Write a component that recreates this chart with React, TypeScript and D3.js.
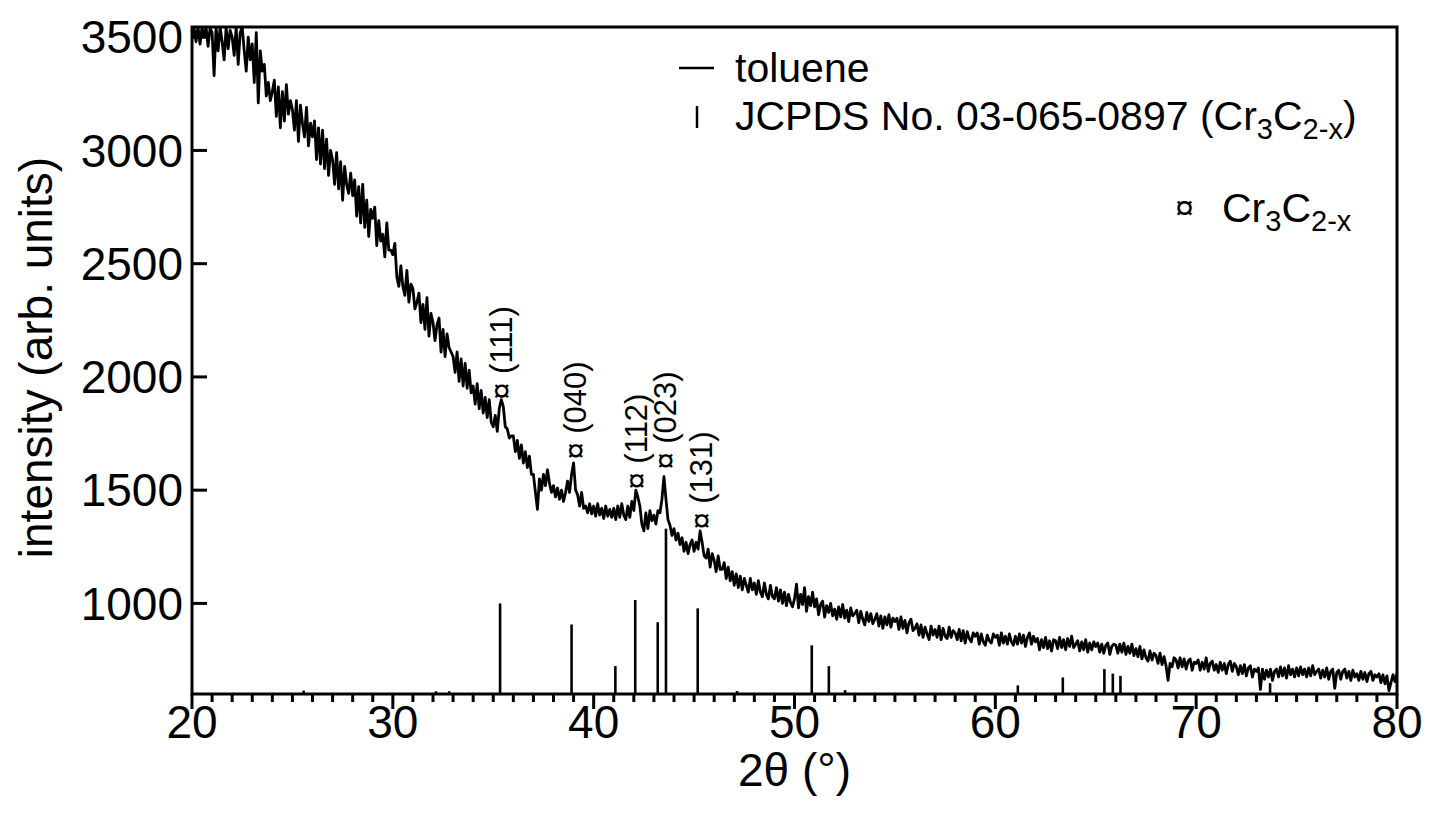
import React from 'react';
import * as d3 from 'd3';

// 2θ grid: 20.0 .. 80.0 every 0.1°, one row per degree
const thetaStart = 20;
const thetaStep = 0.1;
const tolueneRows: number[][] = [
  [3500,3545,3480,3545,3470,3545,3500,3545,3460,3540],
  [3520,3330,3545,3440,3545,3480,3400,3545,3450,3530],
  [3500,3420,3545,3380,3520,3545,3440,3350,3500,3400],
  [3470,3300,3520,3210,3440,3350,3380,3240,3300,3220],
  [3260,3310,3150,3280,3100,3260,3130,3290,3160,3220],
  [3180,3090,3220,3040,3200,3120,3060,3190,3020,3120],
  [3060,3130,2960,3100,2940,3090,2920,3050,2890,3000],
  [2960,2850,2990,2830,2950,2780,2930,2850,2810,2900],
  [2800,2870,2710,2840,2680,2850,2660,2780,2620,2740],
  [2700,2750,2580,2690,2600,2630,2530,2680,2560,2560],
  [2540,2590,2440,2400,2490,2400,2360,2470,2330,2410],
  [2390,2300,2330,2370,2240,2320,2210,2350,2180,2280],
  [2240,2160,2230,2260,2110,2210,2090,2190,2130,2110],
  [2090,2020,2110,1980,2080,1960,2060,1950,2030,1930],
  [1960,1880,1970,1860,1940,1840,1910,1820,1900,1800],
  [1780,1830,1760,1860,1900,1870,1780,1770,1730,1740],
  [1740,1670,1720,1640,1700,1620,1670,1600,1650,1570],
  [1570,1490,1415,1550,1500,1570,1520,1590,1530,1490],
  [1520,1470,1510,1460,1500,1450,1490,1540,1490,1570],
  [1620,1500,1480,1430,1490,1420,1430,1400,1440,1395],
  [1430,1385,1440,1390,1420,1375,1430,1385,1415,1380],
  [1420,1370,1430,1380,1440,1390,1370,1430,1380,1450],
  [1410,1500,1470,1430,1350,1320,1400,1330,1410,1365],
  [1390,1350,1410,1400,1460,1560,1460,1370,1345,1300],
  [1330,1280,1310,1260,1290,1230,1270,1220,1260,1280],
  [1230,1270,1240,1320,1270,1210,1200,1240,1160,1220],
  [1190,1140,1210,1150,1150,1180,1110,1160,1100,1140],
  [1080,1130,1070,1120,1060,1110,1080,1050,1110,1060],
  [1090,1040,1100,1050,1030,1090,1040,1020,1080,1030],
  [1020,1070,1010,1060,1000,1050,990,1040,1005,985],
  [1020,1085,980,1040,995,1070,965,1030,990,1050],
  [985,1020,950,995,1010,940,990,960,1000,945],
  [975,930,985,940,995,935,970,920,980,945],
  [955,970,915,965,930,905,960,920,955,910],
  [930,955,900,945,890,940,905,950,895,935],
  [920,935,885,940,890,925,870,915,930,880],
  [890,910,860,905,850,895,865,840,900,860],
  [885,850,900,840,890,855,845,895,850,880],
  [870,840,885,835,880,825,875,845,830,870],
  [855,870,820,865,830,815,860,835,825,865],
  [850,860,815,870,825,855,820,865,830,815],
  [855,820,865,825,860,810,850,870,820,855],
  [830,845,795,840,805,850,800,835,790,840],
  [835,800,850,805,840,795,845,810,855,805],
  [820,835,790,830,795,840,785,825,795,830],
  [810,825,785,820,780,815,825,775,810,820],
  [815,780,820,785,825,775,810,780,820,770],
  [800,765,810,755,795,760,745,790,750,780],
  [770,735,780,730,765,725,660,735,720,760],
  [750,715,760,720,755,710,745,755,705,740],
  [735,750,705,740,710,760,700,735,745,705],
  [730,695,740,705,735,690,730,745,700,735],
  [720,685,725,690,730,680,715,725,675,710],
  [700,715,620,710,665,705,675,710,660,700],
  [710,675,720,680,715,670,725,685,710,675],
  [715,680,720,685,710,675,715,680,725,685],
  [700,710,670,705,675,715,665,700,710,625],
  [695,705,665,700,710,670,700,660,705,675],
  [690,660,700,665,695,655,690,700,660,685],
  [675,690,650,685,645,680,615,650,685,655],
  [690],
];
const tolueneIntensity: number[] = tolueneRows.flat();

// JCPDS No. 03-065-0897 reference sticks
const jcpdsTheta = [25.56,32.15,32.81,35.34,38.9,41.08,42.07,43.19,43.6,45.18,47.14,50.86,51.71,52.52,61.12,63.36,65.43,65.85,66.23,73.68];
const jcpdsIntensity = [615,612,612,1000,907,723,1015,917,1330,978,613,815,723,617,638,673,710,690,680,648];

// peak annotations
const peakLabels = ['(111)','(040)','(112)','(023)','(131)'];
const peakTheta = [35.40,39.09,42.12,43.57,45.36];
const peakIntensity = [1899,1635,1503,1591,1326];

const xMajorTicks = [20,30,40,50,60,70,80];
const yTicks = [1000,1500,2000,2500,3000,3500];

const FONT = '"Liberation Sans", Arial, Helvetica, sans-serif';

export default function App() {
  const W = 1429, H = 819;
  const L = 192, T = 27, R = 1397, B = 694;
  const x = d3.scaleLinear().domain([20, 80]).range([L, R]);
  const y = d3.scaleLinear().domain([600, 3545]).range([B, T]);
  const line = d3.line<number>()
    .x((_, i) => x(thetaStart + i * thetaStep))
    .y(d => y(d));
  const minorTicks = d3.range(21, 80, 1).filter(v => v % 10 !== 0);
  const sw = 3;

  return (
    <svg width={W} height={H} style={{ position: 'absolute', left: 0, top: 0, background: '#fff' }} fontFamily={FONT}>
      <defs>
        <clipPath id="plotclip">
          <rect x={L} y={T} width={R - L} height={B - T} />
        </clipPath>
      </defs>
      {/* JCPDS sticks */}
      <g stroke="#000" strokeWidth={2.6}>
        {jcpdsTheta.map((t, i) => (
          <line key={i} x1={x(t)} x2={x(t)} y1={y(600)} y2={y(jcpdsIntensity[i])} />
        ))}
      </g>
      {/* data */}
      <path d={line(tolueneIntensity) || ''} fill="none" stroke="#000" strokeWidth={2.8} strokeLinejoin="round" clipPath="url(#plotclip)" />
      {/* frame */}
      <rect x={L} y={T} width={R - L} height={B - T} fill="none" stroke="#000" strokeWidth={sw} />
      {/* ticks */}
      <g stroke="#000" strokeWidth={sw}>
        {xMajorTicks.map(v => (
          <line key={'M' + v} x1={x(v)} x2={x(v)} y1={B} y2={B + 15} />
        ))}
        {minorTicks.map(v => (
          <line key={'m' + v} x1={x(v)} x2={x(v)} y1={B} y2={B + 8} />
        ))}
        {yTicks.map(v => (
          <line key={'y' + v} x1={L} x2={L + 15} y1={y(v)} y2={y(v)} />
        ))}
      </g>
      <g fontSize={46} fill="#000">
        {xMajorTicks.map(v => (
          <text key={'xl' + v} x={x(v)} y={738} textAnchor="middle">{v}</text>
        ))}
        {yTicks.map(v => (
          <text key={'yl' + v} x={183} y={y(v)} dy="0.35em" textAnchor="end">{v}</text>
        ))}
        <text x={(L + R) / 2} y={786} textAnchor="middle">2θ (°)</text>
        <text transform={`translate(52,${(T + B) / 2 - 3}) rotate(-90)`} textAnchor="middle">intensity (arb. units)</text>
      </g>
      {/* peak labels */}
      <g fontSize={31} fill="#000">
        {peakLabels.map((lab, i) => (
          <text key={lab} transform={`translate(${x(peakTheta[i])},${y(peakIntensity[i])}) rotate(-90)`} dy="0.35em">{'¤ ' + lab}</text>
        ))}
      </g>
      {/* legend */}
      <g fill="#000" fontSize={41}>
        <line x1={679} x2={714} y1={68} y2={68} stroke="#000" strokeWidth={2.5} />
        <text x={735} y={82}>toluene</text>
        <line x1={697} x2={697} y1={106} y2={128} stroke="#000" strokeWidth={2.5} />
        <text x={735} y={130}>
          JCPDS No. 03-065-0897 (Cr<tspan dy={9} fontSize={29}>3</tspan><tspan dy={-9}>C</tspan><tspan dy={9} fontSize={29}>2-x</tspan><tspan dy={-9}>)</tspan>
        </text>
        <text x={1175} y={219} fontSize={34}>¤</text>
        <text x={1222} y={222}>
          Cr<tspan dy={9} fontSize={29}>3</tspan><tspan dy={-9}>C</tspan><tspan dy={9} fontSize={29}>2-x</tspan>
        </text>
      </g>
    </svg>
  );
}
